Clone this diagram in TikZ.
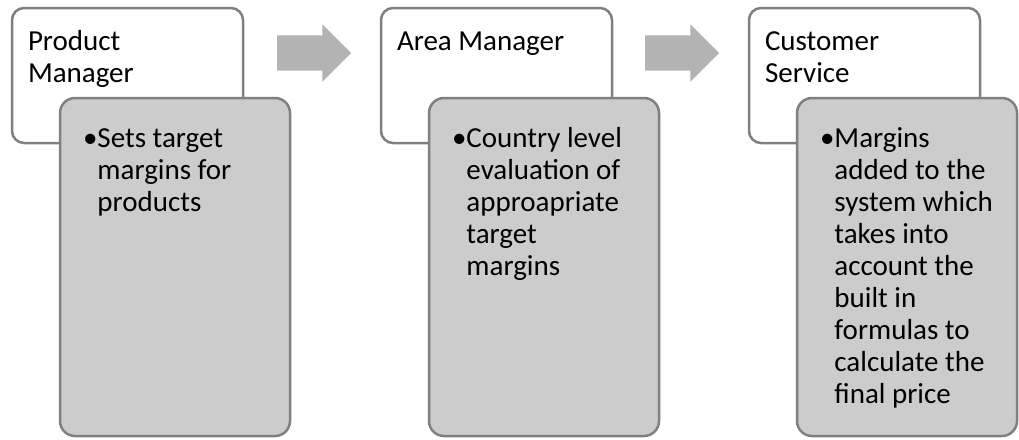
\documentclass[tikz,border=0pt]{standalone}
\usepackage{fontspec}
\setmainfont{Carlito}
\usetikzlibrary{shapes.arrows,positioning}
\definecolor{edge}{HTML}{808080}
\definecolor{taskfill}{HTML}{CCCCCC}
\definecolor{flowfill}{HTML}{B3B3B3}
\tikzstyle{role} = [draw=edge,line width=2.5pt,fill=white,rectangle,rounded corners=12pt,inner sep=0,outer sep=0,minimum width=231pt,minimum height=135pt]
\tikzstyle{task} = [draw=edge,line width=2.5pt,fill=taskfill,rectangle,rounded corners=15pt,inner sep=0,outer sep=0,minimum width=230pt,minimum height=338pt]
\tikzstyle{txt} = [anchor=north west,inner sep=0,outer sep=0,font=\fontsize{29}{32}\selectfont]
\tikzstyle{flow} = [single arrow,fill=flowfill,draw=none,inner xsep=0,inner ysep=17.5pt,outer sep=0,minimum height=74pt,minimum width=57pt,single arrow head extend=11pt,anchor=tail]
\newcommand{\rolename}[1]{\begin{tabular}{@{}l@{}}#1\end{tabular}}
\newcommand{\tasklist}[1]{\begin{tabular}{@{}l@{}l@{}}•&\begin{tabular}[t]{@{}l@{}}#1\end{tabular}\end{tabular}}

\begin{document}
\begin{tikzpicture}[x=1pt,y=1pt]
  \useasboundingbox (0,0) rectangle (1019,-439);
  % product manager
  \node[role] (pm) at (127.5,-75.5) {};
  \node[txt,below right=19.6pt and 16pt of pm.north west] (pmt) {\rolename{Product\\Manager}};
  \node[task,below right=90pt and 48pt of pm.north west] (pmg) {};
  \node[txt,below right=26.6pt and 23pt of pmg.north west] (pmb) {\tasklist{Sets target\\margins for\\products}};
  % area manager
  \node[role] (am) at (496.5,-75.5) {};
  \node[txt,below right=19.6pt and 16pt of am.north west] (amt) {\rolename{Area Manager}};
  \node[task,below right=90pt and 48pt of am.north west] (amg) {};
  \node[txt,below right=26.6pt and 23pt of amg.north west] (amb) {\tasklist{Country level\\evaluation of\\approapriate\\target\\margins}};
  % customer service
  \node[role] (cs) at (864.5,-75.5) {};
  \node[txt,below right=19.6pt and 16pt of cs.north west] (cst) {\rolename{Customer\\Service}};
  \node[task,minimum width=220pt,below right=90pt and 48pt of cs.north west] (csg) {};
  \node[txt,below right=26.6pt and 23pt of csg.north west] (csb) {\tasklist{Margins\\added to the\\system which\\takes into\\account the\\built in\\formulas to\\calculate the\\final price}};
  % arrows
  \node[flow] (a1) at (277,-53) {};
  \node[flow] (a2) at (645,-53) {};
\end{tikzpicture}
\end{document}
